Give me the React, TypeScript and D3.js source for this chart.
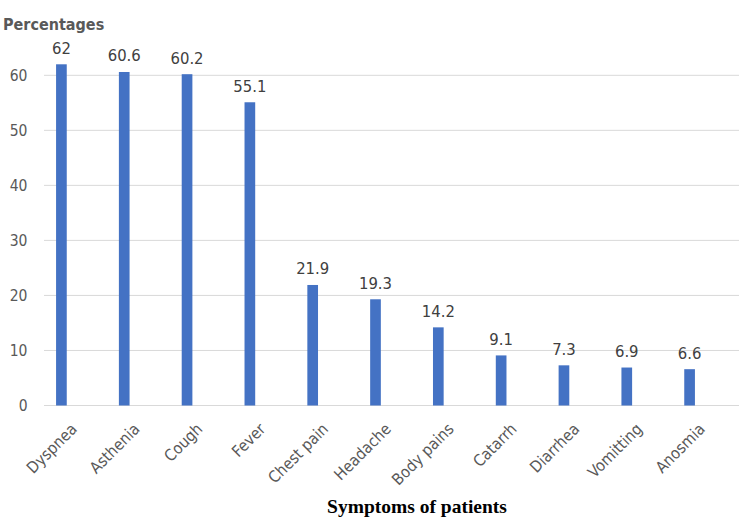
import React from "react";
import * as d3 from "d3";

const categories = ["Dyspnea", "Asthenia", "Cough", "Fever", "Chest pain", "Headache", "Body pains", "Catarrh", "Diarrhea", "Vomitting", "Anosmia"];
const values = [62, 60.6, 60.2, 55.1, 21.9, 19.3, 14.2, 9.1, 7.3, 6.9, 6.6];
const yTicks = [0, 10, 20, 30, 40, 50, 60];
const yTitle = "Percentages";
const xTitle = "Symptoms of patients";

const W = 739;
const H = 525;

export default function App() {
  const x = d3.scaleBand<string>().domain(categories).range([30, 721]).paddingInner(0.83).paddingOuter(0.415);
  const y = d3.scaleLinear().domain([0, 60]).range([405.5, 75.3]);
  const font = "'DejaVu Sans Condensed', 'DejaVu Sans', sans-serif";
  return (
    <svg width={W} height={H} style={{ position: "absolute", left: 0, top: 0, background: "#fff" }}>
      {yTicks.map((t) => (
        <g key={t}>
          <line x1={44} x2={739} y1={y(t)} y2={y(t)} stroke="#d9d9d9" strokeWidth={1} />
          <text x={27.5} y={y(t) + 5.5} textAnchor="end" fontFamily={font} fontStretch="condensed" fontSize={15.5} fill="#595959">{t}</text>
        </g>
      ))}
      {categories.map((c, i) => {
        const cx = (x(c) as number) + x.bandwidth() / 2;
        return (
          <g key={c}>
            <rect x={x(c)} y={y(values[i])} width={x.bandwidth()} height={y(0) - y(values[i])} fill="#4472C4" />
            <text x={cx} y={y(values[i]) - 10.5} textAnchor="middle" fontFamily={font} fontStretch="condensed" fontSize={16.5} fill="#404040">{values[i]}</text>
            <text transform={`translate(${cx + 16.5},${y(0) + 24.5}) rotate(-45)`} textAnchor="end" fontFamily={font} fontStretch="condensed" fontSize={16} fill="#595959">{c}</text>
          </g>
        );
      })}
      <text x={3} y={30} fontFamily={font} fontStretch="condensed" fontWeight="bold" fontSize={16} fill="#595959">{yTitle}</text>
      <text x={417} y={513} textAnchor="middle" fontFamily="'Liberation Serif', 'Times New Roman', serif" fontWeight="bold" fontSize={19.5} fill="#000">{xTitle}</text>
    </svg>
  );
}
